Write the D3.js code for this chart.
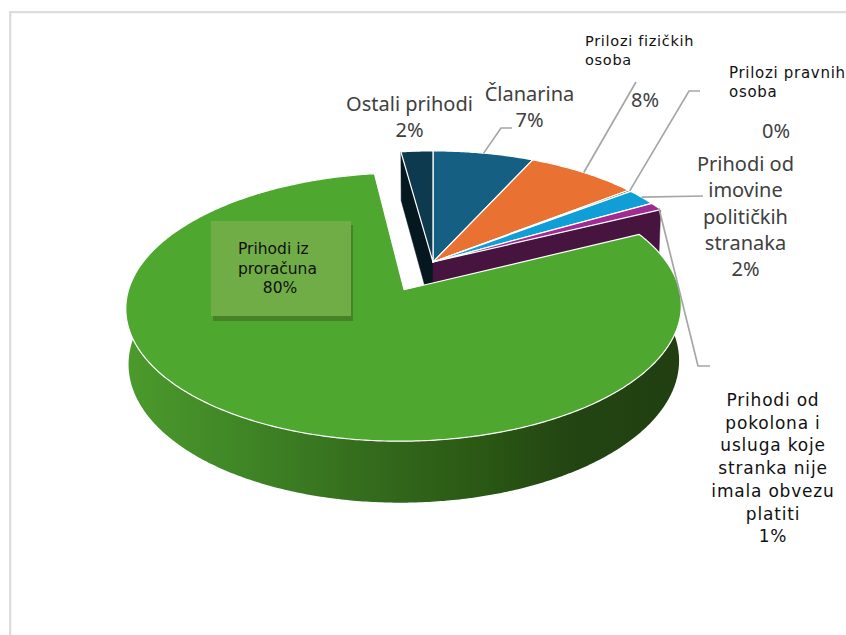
<!DOCTYPE html>
<html>
<head>
<meta charset="utf-8">
<script src="https://cdn.jsdelivr.net/npm/d3@7"></script>
<style>
  html, body { margin: 0; padding: 0; background: #fff; }
  svg { display: block; }
</style>
</head>
<body>
<div id="chart"></div>
<script>
// values, the printed labels are rounded
const categories = ['Članarina', 'Prilozi fizičkih osoba', 'Prilozi pravnih osoba', 'Prihodi od imovine političkih stranaka',
    'Prihodi od pokolona i usluga koje stranka nije imala obvezu platiti', 'Prihodi iz proračuna', 'Ostali prihodi'];
const shares = [6.8, 7.6, 0.2, 2.1, 1.0, 80.15, 2.15];
const percentLabels = ['7%', '8%', '0%', '2%', '1%', '80%', '2%'];
const colors = ['#156082', '#E97132', '#196B24', '#0F9ED5', '#A02B93', '#4EA72E', '#0D3A4E'];

const width = 846, height = 635;

// the tilted pie: centre, scale in x/y, perspective strength, thickness
const view = { cx: 433, cy: 262, sx: 268, sy: 125, persp: 0.125, depth: 53.5, shrink: 0.009 };
const explodeIndex = 5;      // proračun is pulled out of the pie
const explodeBy = 0.24;
const explodeTurn = -0.035;  // pull direction is not quite the slice middle

const svg = d3.select('#chart').append('svg')
    .attr('width', width)
    .attr('height', height);

// frame of the chart area
svg.append('path')
    .attr('d', `M10.2,${height}V12.2H${width}`)
    .attr('fill', 'none')
    .attr('stroke', '#dcdcdc')
    .attr('stroke-width', 2.3);

const defs = svg.append('defs');
const sideGrad = defs.append('linearGradient')
    .attr('id', 'greenSide')
    .attr('gradientUnits', 'userSpaceOnUse')
    .attr('x1', 128).attr('x2', 680).attr('y1', 0).attr('y2', 0);
[[0, '#4b9a2c'], [0.2, '#408626'], [0.45, '#336a1c'], [0.65, '#2a5714'], [0.8, '#234512'], [1, '#213f12']]
    .forEach(s => sideGrad.append('stop').attr('offset', s[0]).attr('stop-color', s[1]));

// plane point -> screen, z = 1 is the bottom of the pie
function project(X, Y, z) {
    const w = 1 + view.persp * Y * -1;
    const k = 1 - view.shrink * z;
    return [
        view.cx + view.sx * X / w * k,
        view.cy + view.sy * Y / w * k + view.depth * z / w
    ];
}

const arcs = d3.pie().sort(null).value(d => d).startAngle(0).endAngle(2 * Math.PI)(shares);

function offsetOf(i) {
    if (i !== explodeIndex) return [0, 0];
    const mid = (arcs[i].startAngle + arcs[i].endAngle) / 2 + explodeTurn;
    return [explodeBy * Math.sin(mid), -explodeBy * Math.cos(mid)];
}

function rimPoint(i, angle, z) {
    const o = offsetOf(i);
    return project(o[0] + Math.sin(angle), o[1] - Math.cos(angle), z);
}

function apex(i, z) {
    const o = offsetOf(i);
    return project(o[0], o[1], z);
}

function rimAngles(i) {
    const a = arcs[i];
    const n = Math.max(2, Math.ceil((a.endAngle - a.startAngle) / 0.01));
    return d3.range(n + 1).map(k => a.startAngle + (a.endAngle - a.startAngle) * k / n);
}

const line = d3.line();

// cut wall between apex and one rim angle
function cutWall(i, angle, fill) {
    svg.append('path')
        .attr('d', line([apex(i, 0), rimPoint(i, angle, 0), rimPoint(i, angle, 1), apex(i, 1)]) + 'Z')
        .attr('fill', fill)
        .attr('stroke', fill)
        .attr('stroke-width', 0.5);
}

function topFace(i) {
    svg.append('path')
        .attr('d', line([apex(i, 0)].concat(rimAngles(i).map(a => rimPoint(i, a, 0)))) + 'Z')
        .attr('fill', colors[i])
        .attr('stroke', '#fff')
        .attr('stroke-width', 1.2)
        .attr('stroke-linejoin', 'round');
}

cutWall(6, arcs[6].startAngle, '#05171f');
cutWall(4, arcs[4].endAngle, '#46143f');

[0, 1, 2, 3, 4, 6].forEach(topFace);

// outer wall of the big slice, the top face hides the back of it
const angles = rimAngles(explodeIndex);
svg.append('path')
    .attr('d', line(angles.map(a => rimPoint(explodeIndex, a, 0))
        .concat(angles.slice().reverse().map(a => rimPoint(explodeIndex, a, 1)))) + 'Z')
    .attr('fill', 'url(#greenSide)');

topFace(explodeIndex);

// leader lines, first point sits on the slice rim
const leaderElbows = [
    [[501, 128], [512, 128]],
    [[636, 82]],
    [[689, 91], [700, 91]],
    [[703, 196]],
    [[698, 366], [710, 366]]
];
const leaderAt = [0.5, 0.5, 0.5, 0.5, 0.8];

leaderElbows.forEach((pts, i) => {
    const a = arcs[i].startAngle + (arcs[i].endAngle - arcs[i].startAngle) * leaderAt[i];
    svg.append('path')
        .attr('d', line([rimPoint(i, a, 0)].concat(pts)))
        .attr('fill', 'none')
        .attr('stroke', '#a6a6a6')
        .attr('stroke-width', 1.7);
});

// box behind the label of the big slice
svg.append('rect').attr('x', 213).attr('y', 225).attr('width', 140).attr('height', 96).attr('fill', '#478226');
svg.append('rect').attr('x', 211).attr('y', 221).attr('width', 140).attr('height', 95).attr('fill', '#70AD47');

const sansA = '"Noto Sans", sans-serif';
const sansB = '"DejaVu Sans", sans-serif';

function label(x, y, lines, size, font, fill, anchor, lh, spacing) {
    const t = svg.append('text')
        .attr('font-family', font)
        .attr('font-size', size)
        .attr('fill', fill)
        .attr('text-anchor', anchor)
        .attr('letter-spacing', spacing || 0);
    lines.forEach((s, k) => {
        t.append('tspan').attr('x', x).attr('y', y + k * lh).text(s);
    });
}

const grey = '#404040';
label(409.5, 111, ['Ostali prihodi', percentLabels[6]], 20, sansA, grey, 'middle', 26);
label(529.5, 101, ['Članarina', percentLabels[0]], 20, sansA, grey, 'middle', 26);
label(585, 46, ['Prilozi fizičkih', 'osoba'], 14.5, sansB, '#111', 'start', 19, 0.7);
label(645, 107, [percentLabels[1]], 20, sansA, grey, 'middle', 0);
label(729, 78, ['Prilozi pravnih', 'osoba'], 15, sansB, '#111', 'start', 19, 0.7);
label(776, 138, [percentLabels[2]], 20, sansA, grey, 'middle', 0);
label(745.5, 171, ['Prihodi od', 'imovine', 'političkih', 'stranaka', percentLabels[3]], 20, sansA, grey, 'middle', 26.3);
label(773, 406, ['Prihodi od', 'pokolona i', 'usluga koje', 'stranka nije', 'imala obvezu', 'platiti', percentLabels[4]], 17, sansB, '#111', 'middle', 22.7, 0.8);
label(238, 254, ['Prihodi iz', 'proračuna'], 15.5, sansB, '#111', 'start', 20);
label(280, 293, [percentLabels[5]], 15.5, sansB, '#111', 'middle', 0);
</script>
</body>
</html>
